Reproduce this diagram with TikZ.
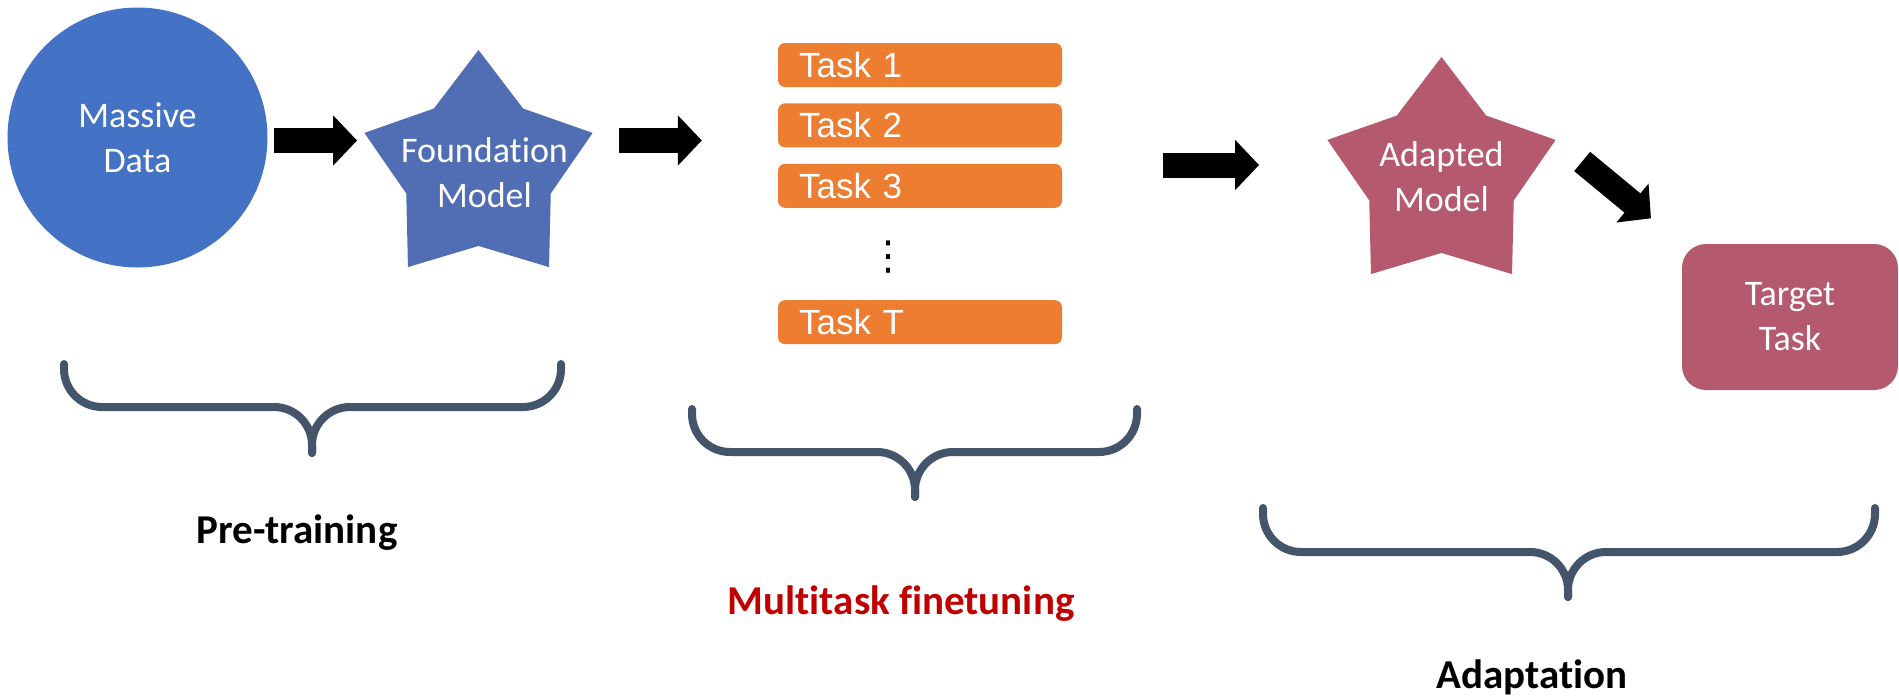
\documentclass[tikz,border=0pt]{standalone}
\usepackage{fontspec}
\setmainfont{Carlito}[Ligatures=NoCommon]
\newfontfamily\taskfont{Liberation Sans}
\newfontfamily\symfont{DejaVu Sans}
\usetikzlibrary{shapes, arrows.meta, positioning}

\definecolor{dataBlue}{RGB}{68,114,196}
\definecolor{modelBlue}{RGB}{81,110,181}
\definecolor{taskOrange}{RGB}{237,125,49}
\definecolor{adaptRose}{RGB}{181,89,111}
\definecolor{braceGray}{RGB}{68,84,106}
\definecolor{labelRed}{RGB}{192,0,0}

\begin{document}
\begin{tikzpicture}[
    x=1pt, y=-1pt,
    font=\fontsize{36}{45}\selectfont,
    data_node/.style={circle, fill=dataBlue, minimum size=260pt, text=white, align=center},
    star_node/.style={star, star points=5, star point ratio=1.58, minimum size=240pt, inner sep=0pt},
    star_text/.style={text=white, align=center},
    task_box/.style={rectangle, rounded corners=7pt, fill=taskOrange, minimum height=44pt, text width=242pt, inner xsep=21pt, align=left, text=white, font=\taskfont\fontsize{35}{42}\selectfont},
    target_box/.style={rectangle, rounded corners=24pt, fill=adaptRose, minimum width=216pt, minimum height=146pt, text=white, align=center},
    arrow/.style={-{Triangle[length=24pt, width=49pt]}, line width=25pt},
    brace/.style={draw=braceGray, line width=8pt, line cap=round, rounded corners=38pt},
    stage_label/.style={font=\bfseries\fontsize{41}{49}\selectfont}
]
    \useasboundingbox (0,0) rectangle (1899,699);

    % Nodes
    \node[data_node] (data) at (137.5,137.5) {Massive\\Data};
    \node[star_node, fill=modelBlue] (found) at (478.5,170) {};
    \node[star_text] (found_text) at ([xshift=6pt, yshift=-3pt]found) {Foundation\\Model};

    % Tasks
    \node[task_box] (t1) at (920,65) {Task 1};
    \node[task_box, below=16pt of t1] (t2) {Task 2};
    \node[task_box, below=16pt of t2] (t3) {Task 3};
    \node[task_box, below=92pt of t3] (tT) {Task T};
    \node[font=\symfont\fontsize{40}{40}\selectfont] (dots) at (888,257) {⋮};

    \node[star_node, fill=adaptRose] (adapted) at (1441.5,177) {};
    \node[star_text] (adapted_text) at (adapted) {Adapted\\Model};
    \node[target_box] (target) at (1790,317) {Target\\Task};

    % Block arrows
    \coordinate (row) at (0,140.5);
    \coordinate (row2) at (0,165);
    \draw[arrow, shorten <=6pt, shorten >=7pt] (data.east |- row) -- (found.outer point 2 |- row);
    \draw[arrow, shorten <=26pt, shorten >=76pt] (found.outer point 5 |- row) -- (t1.west |- row);
    \draw[arrow, shorten <=101pt, shorten >=68pt] (t3.east |- row2) -- (adapted.outer point 2 |- row2);
    \draw[arrow, shorten <=34pt, shorten >=40pt] (adapted.outer point 5) -- (target.north west);

    % Braces
    \draw[brace] (312,453) -- (312,407) -- (64,407) -- (64,364);
    \draw[brace] (312,453) -- (312,407) -- (561,407) -- (561,364);
    \draw[brace] (915,497) -- (915,452) -- (692,452) -- (692,409);
    \draw[brace] (915,497) -- (915,452) -- (1137,452) -- (1137,409);
    \draw[brace] (1568,597) -- (1568,552) -- (1263,552) -- (1263,508);
    \draw[brace] (1568,597) -- (1568,552) -- (1875,552) -- (1875,508);

    % Stage labels
    \node[stage_label] (pretrain) at (297,533) {Pre-training};
    \node[stage_label, text=labelRed] (multitask) at (901,604) {Multitask finetuning};
    \node[stage_label] (adapt) at (1532,677) {Adaptation};

\end{tikzpicture}
\end{document}
